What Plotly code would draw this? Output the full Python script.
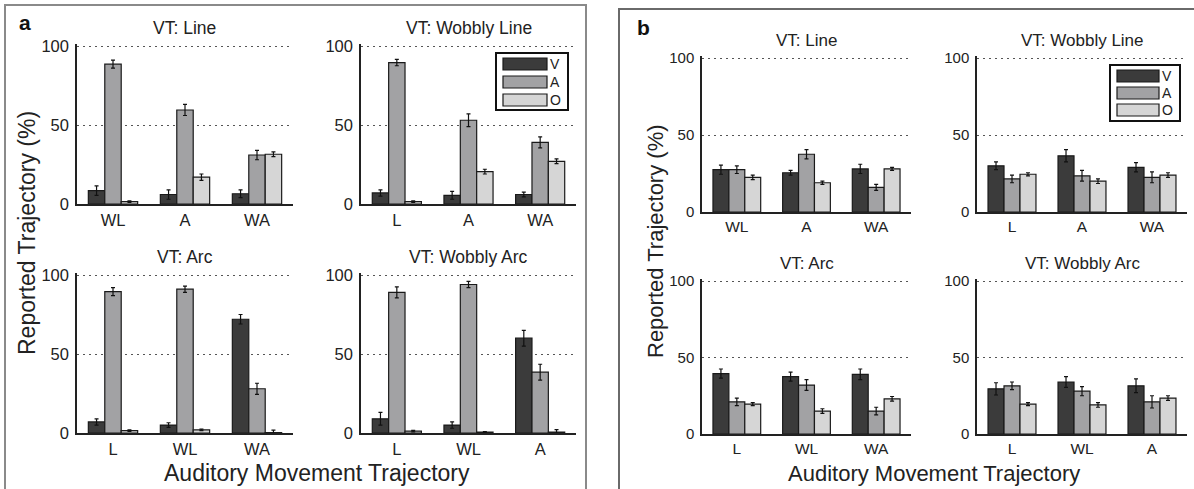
import plotly.graph_objects as go

# ---------------- data ----------------
series = ["V", "A", "O"]
series_colors = ["#3b3b3b", "#a2a2a4", "#d6d6d6"]

titles = ["VT: Line", "VT: Wobbly Line", "VT: Arc", "VT: Wobbly Arc"]
cats = [["WL", "A", "WA"], ["L", "A", "WA"], ["L", "WL", "WA"], ["L", "WL", "A"]]

# panel a
a_V = [[8.5, 6, 6.5], [7, 5.5, 6], [7, 5, 72], [9, 5, 60]]
a_A = [[88.5, 59.5, 31], [89.5, 53, 39], [89.5, 91, 28], [89, 94, 38.5]]
a_O = [[1.5, 17, 31.5], [1.5, 20.5, 27], [1.5, 2, 0.3], [1.2, 0.6, 0.6]]
a_V_err = [[3, 3, 2.5], [2, 2.5, 1.5], [2, 1.5, 3], [4, 2, 5]]
a_A_err = [[2.5, 3.5, 3], [2, 4, 3.5], [2.5, 2, 3.5], [3.5, 2, 5]]
a_O_err = [[0.5, 2, 1.5], [0.5, 1.5, 1.5], [0.5, 0.5, 1.5], [0.5, 0.3, 1.5]]

# panel b
b_V = [[27.5, 25.5, 28], [30, 36.5, 29], [39.5, 37.5, 39], [29.5, 34, 31.5]]
b_A = [[27.5, 37.5, 16], [21.5, 23.5, 22.5], [21, 32, 15], [31.5, 28, 21]]
b_O = [[22.5, 19, 28], [24.5, 20, 24], [19.5, 15, 23], [19.5, 19, 23.5]]
b_V_err = [[3, 1.5, 3], [2.5, 4, 3], [3, 3, 3.5], [4, 3.5, 4.5]]
b_A_err = [[2.5, 3, 2], [2.5, 3.5, 3.5], [2.5, 3.5, 2.5], [2.5, 3, 4]]
b_O_err = [[1.5, 1, 1], [1, 1.5, 1.5], [1, 1.5, 1.5], [1, 1.5, 1.5]]

y_ticks = [0, 50, 100]
y_max = 101
y_title = "Reported Trajectory (%)"
x_title = "Auditory Movement Trajectory"
panel_letters = ["a", "b"]

# ---------------- layout geometry (pixels) ----------------
W, H = 1194, 489
FONT = "Liberation Sans, Arial, Helvetica, sans-serif"
TXT = "#222222"

def px_x(x):
    return x / W

def px_y(y):
    return 1 - y / H

# subplot boxes: (x0, x1, y of value 100, y of value 0)
boxes = [
    # panel a
    (77, 293, 46, 204), (361, 576, 46, 204), (77, 293, 275, 433), (361, 576, 275, 433),
    # panel b
    (702, 911, 58, 212), (977, 1187, 58, 212), (702, 911, 281, 434), (977, 1187, 281, 434),
]

panels = [
    dict(V=a_V, A=a_A, O=a_O, Ve=a_V_err, Ae=a_A_err, Oe=a_O_err, tick=16.5, xtick=16.5, title=17.5),
    dict(V=b_V, A=b_A, O=b_O, Ve=b_V_err, Ae=b_A_err, Oe=b_O_err, tick=15, xtick=15.5, title=17),
]

fig = go.Figure()
layout = {}
annotations = []
shapes = []

k = 0
for p, pdat in enumerate(panels):
    for s in range(4):
        k += 1
        xa = "x" if k == 1 else f"x{k}"
        ya = "y" if k == 1 else f"y{k}"
        vals = [pdat["V"][s], pdat["A"][s], pdat["O"][s]]
        errs = [pdat["Ve"][s], pdat["Ae"][s], pdat["Oe"][s]]
        for i, name in enumerate(series):
            fig.add_trace(go.Bar(
                x=cats[s], y=vals[i], name=name, showlegend=False,
                marker=dict(color=series_colors[i], line=dict(color="#1a1a1a", width=1.2)),
                error_y=dict(type="data", array=errs[i], color="#111111", thickness=1.2, width=2),
                xaxis=xa, yaxis=ya, offsetgroup=str(i),
            ))
        x0, x1, yt, yb = boxes[k - 1]
        ytop_px = yb - (yb - yt) * y_max / 100.0
        xkey = "xaxis" if k == 1 else f"xaxis{k}"
        ykey = "yaxis" if k == 1 else f"yaxis{k}"
        layout[xkey] = dict(
            domain=[px_x(x0), px_x(x1)], anchor=ya, type="category", automargin=False,
            range=[-0.5, 2.5], showline=True, linecolor="#222222", linewidth=1.5,
            showgrid=False, zeroline=False, ticks="",
            tickfont=dict(family=FONT, size=pdat["xtick"], color=TXT),
        )
        layout[ykey] = dict(
            domain=[px_y(yb), px_y(ytop_px)], anchor=xa, range=[0, y_max], automargin=False,
            tickvals=y_ticks, showline=True, linecolor="#222222", linewidth=1.5,
            showgrid=True, gridcolor="#555555", griddash="1.5px,4.5px", gridwidth=1,
            zeroline=False, ticks="", ticklabelstandoff=3,
            tickfont=dict(family=FONT, size=pdat["tick"], color=TXT),
        )
        annotations.append(dict(
            text=titles[s], x=px_x((x0 + x1) / 2), y=px_y(yt - 18), xref="paper", yref="paper",
            showarrow=False, xanchor="center", yanchor="middle",
            font=dict(family=FONT, size=pdat["title"], color=TXT),
        ))

# axis titles
annotations += [
    dict(text=x_title, x=px_x(317), y=px_y(473), xref="paper", yref="paper", showarrow=False,
         xanchor="center", yanchor="middle", font=dict(family=FONT, size=23, color=TXT)),
    dict(text=x_title, x=px_x(934), y=px_y(473), xref="paper", yref="paper", showarrow=False,
         xanchor="center", yanchor="middle", font=dict(family=FONT, size=22, color=TXT)),
    dict(text=y_title, x=px_x(27), y=px_y(233), xref="paper", yref="paper", showarrow=False,
         textangle=-90, xanchor="center", yanchor="middle", font=dict(family=FONT, size=23, color=TXT)),
    dict(text=y_title, x=px_x(655), y=px_y(241), xref="paper", yref="paper", showarrow=False,
         textangle=-90, xanchor="center", yanchor="middle", font=dict(family=FONT, size=22, color=TXT)),
    dict(text="<b>" + panel_letters[0] + "</b>", x=px_x(25), y=px_y(22), xref="paper", yref="paper",
         showarrow=False, xanchor="center", yanchor="middle", font=dict(family=FONT, size=21, color="#111")),
    dict(text="<b>" + panel_letters[1] + "</b>", x=px_x(643), y=px_y(28), xref="paper", yref="paper",
         showarrow=False, xanchor="center", yanchor="middle", font=dict(family=FONT, size=21, color="#111")),
]

# panel frames
shapes += [
    dict(type="rect", xref="paper", yref="paper", x0=px_x(5), x1=px_x(586), y0=px_y(495), y1=px_y(5),
         line=dict(color="#8a8a8a", width=2)),
    dict(type="rect", xref="paper", yref="paper", x0=px_x(619), x1=px_x(1200), y0=px_y(495), y1=px_y(9),
         line=dict(color="#6a6a6a", width=2)),
]

# legends (drawn in each panel's top-right subplot)
legend_boxes = [
    dict(box=(496, 568, 53, 110), sw=(503, 547), rows=[(58, 70), (76, 88), (94, 106)], lab=555),
    dict(box=(1110, 1180, 65, 121), sw=(1117, 1159), rows=[(70, 82), (87, 99), (104, 116)], lab=1167),
]
for lg in legend_boxes:
    bx0, bx1, by0, by1 = lg["box"]
    shapes.append(dict(type="rect", xref="paper", yref="paper", x0=px_x(bx0), x1=px_x(bx1),
                       y0=px_y(by1), y1=px_y(by0), line=dict(color="#111111", width=2),
                       fillcolor="white"))
    for i, name in enumerate(series):
        r0, r1 = lg["rows"][i]
        shapes.append(dict(type="rect", xref="paper", yref="paper", x0=px_x(lg["sw"][0]),
                           x1=px_x(lg["sw"][1]), y0=px_y(r1), y1=px_y(r0),
                           line=dict(color="#1a1a1a", width=1.2), fillcolor=series_colors[i]))
        annotations.append(dict(text=name, x=px_x(lg["lab"]), y=px_y((r0 + r1) / 2), xref="paper",
                                yref="paper", showarrow=False, xanchor="center", yanchor="middle",
                                font=dict(family=FONT, size=14, color=TXT)))

fig.update_layout(
    width=W, height=H, margin=dict(l=0, r=0, t=0, b=0, autoexpand=False),
    paper_bgcolor="white", plot_bgcolor="white",
    barmode="group", bargap=0.315, bargroupgap=0,
    annotations=annotations, shapes=shapes, showlegend=False,
    **layout,
)

fig.write_html("out.html", config={"displayModeBar": False})
